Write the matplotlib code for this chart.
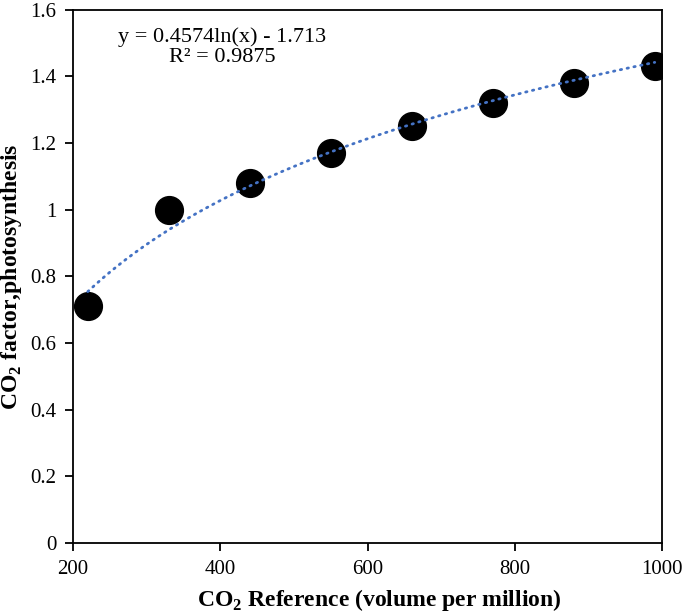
import numpy as np
import matplotlib
matplotlib.use("Agg")
import matplotlib.pyplot as plt

plt.rcParams["font.family"] = ["Liberation Serif", "DejaVu Serif"]
plt.rcParams["mathtext.fontset"] = "custom"
plt.rcParams["mathtext.rm"] = "Liberation Serif"
plt.rcParams["mathtext.bf"] = "Liberation Serif:bold"

# Data #
co2_ref = [220, 330, 440, 550, 660, 770, 880, 990]
co2_factor = [0.71, 1.00, 1.08, 1.17, 1.25, 1.32, 1.38, 1.43]

# log trendline (Excel)
fit_a = 0.4574
fit_b = -1.713
r2 = 0.9875

x_ticks = [200, 400, 600, 800, 1000]
y_ticks = [0, 0.2, 0.4, 0.6, 0.8, 1, 1.2, 1.4, 1.6]
y_labels = ["0", "0.2", "0.4", "0.6", "0.8", "1", "1.2", "1.4", "1.6"]

# Plotting #
fig = plt.figure(figsize=(6.85, 6.13), dpi=100)
ax = fig.add_axes([0.1066, 0.1142, 0.860, 0.870])

x_fit = np.linspace(min(co2_ref), max(co2_ref), 300)
ax.plot(x_fit, fit_a * np.log(x_fit) + fit_b, color="#4472C4", lw=2.0,
        linestyle=(0, (0.5, 2.0)), dash_capstyle="round", zorder=3)
ax.plot(co2_ref, co2_factor, "o", color="black", markersize=20, zorder=2)

ax.text(403, 1.488, "y = %.4fln(x) - %.3f\nR\u00b2 = %.4f" % (fit_a, -fit_b, r2),
        ha="center", va="center", fontsize=16, linespacing=1.1)

ax.set_xlim(200, 1000)
ax.set_ylim(0, 1.6)
ax.set_xticks(x_ticks)
ax.set_yticks(y_ticks)
ax.set_yticklabels(y_labels)
ax.tick_params(labelsize=15, length=6, width=1.3, direction="out", pad=6)
for s in ax.spines.values():
    s.set_linewidth(1.3)

ax.set_xlabel("CO$_\\mathbf{2}$ Reference (volume per million)",
              fontsize=17, fontweight="bold")
ax.set_ylabel("CO$_\\mathbf{2}$ factor,photosynthesis",
              fontsize=17, fontweight="bold")
ax.xaxis.set_label_coords(0.52, -0.082)
ax.yaxis.set_label_coords(-0.084, 0.5)

fig.savefig("out.png", dpi=100)
